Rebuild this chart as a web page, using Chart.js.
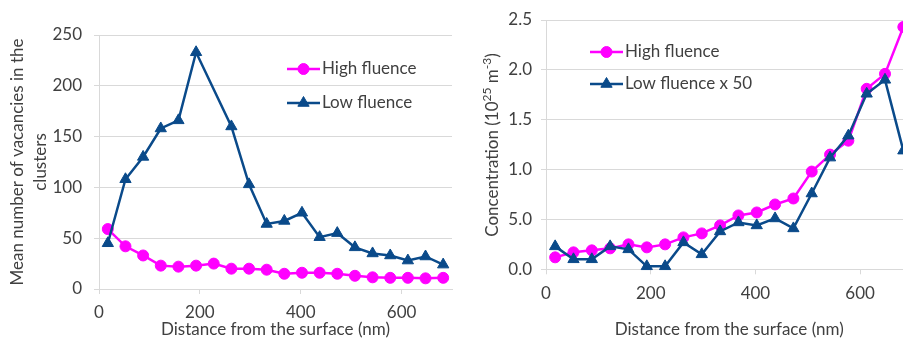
<!DOCTYPE html>
<html>
<head>
<meta charset="utf-8">
<script src="https://cdn.jsdelivr.net/npm/chart.js@4"></script>
<style>
  html, body { margin: 0; padding: 0; background: #fff; overflow: hidden; }
  body { width: 903px; height: 338px; position: relative; }
  canvas { position: absolute; top: 0; }
  #vacancies { left: 0; }
  #concentration { left: 460px; }
</style>
</head>
<body>
<canvas id="vacancies" width="460" height="338"></canvas>
<canvas id="concentration" width="460" height="338"></canvas>
<script>
// depth of each slice (nm)
const distanceNm = [17.5, 52.5, 87.5, 122.5, 157.5, 192.5, 227.5, 262.5, 297.5, 332.5,
    367.5, 402.5, 437.5, 472.5, 507.5, 542.5, 577.5, 612.5, 647.5, 682.5];

// mean number of vacancies per cluster
const vacHigh = [59, 42, 33, 23, 22, 23, 25, 20, 20, 19, 15, 16, 16, 15, 13, 11.5, 11, 11, 10.5, 11];
const vacLow = [45, 108, 130, 158, 166, 233, null, 160, 103, 64, 67, 75, 51, 55, 41, 35, 33, 28, 32, 24];

// cluster concentration (10^25 m^-3)
const concHigh = [0.12, 0.17, 0.19, 0.21, 0.25, 0.22, 0.25, 0.32, 0.36, 0.44,
    0.54, 0.57, 0.65, 0.71, 0.98, 1.15, 1.29, 1.81, 1.96, 2.43];
const concLow50 = [0.23, 0.1, 0.1, 0.23, 0.2, 0.03, 0.03, 0.27, 0.15, 0.38,
    0.47, 0.44, 0.51, 0.41, 0.76, 1.12, 1.34, 1.76, 1.9, 1.19];

const concTickLabels = ['0.0', '5.0', '1.0', '1.5', '2.0', '2.5'];

const FONT = 'Lato, "Open Sans", sans-serif';
const TEXT = '#404040';
const GRID = '#d9d9d9';
const PINK = '#ff00ff';
const NAVY = '#0a4a8a';

function points(values) {
    return distanceNm.map((x, i) => ({ x, y: values[i] }));
}

function series(label, values, color, style, radius, order) {
    return {
        label,
        data: points(values),
        borderColor: color,
        backgroundColor: color,
        pointBackgroundColor: color,
        pointBorderColor: color,
        pointBorderWidth: 1,
        borderWidth: 2.5,
        pointStyle: style,
        pointRadius: radius,
        spanGaps: true,
        clip: false,
        order,
    };
}

// legend drawn inside the plot: a short line with the marker, then the label
const insideLegend = {
    id: 'insideLegend',
    afterDraw(chart, args, opts) {
        const ctx = chart.ctx;
        ctx.save();
        chart.data.datasets.forEach((ds, i) => {
            const y = opts.y + i * opts.rowGap;
            ctx.strokeStyle = ds.borderColor;
            ctx.lineWidth = ds.borderWidth;
            ctx.beginPath();
            ctx.moveTo(opts.x, y);
            ctx.lineTo(opts.x + opts.lineLength, y);
            ctx.stroke();

            ctx.fillStyle = ds.borderColor;
            ctx.lineWidth = 1;
            Chart.helpers.drawPoint(ctx, {
                pointStyle: ds.pointStyle,
                radius: ds.pointRadius,
                borderWidth: 1,
                rotation: 0,
            }, opts.x + opts.lineLength / 2, y);

            ctx.fillStyle = TEXT;
            ctx.font = `${opts.fontSize}px ${FONT}`;
            ctx.textBaseline = 'middle';
            ctx.textAlign = 'left';
            ctx.fillText(ds.label, opts.x + opts.lineLength + 2, y);
        });
        ctx.restore();
    },
};

// rotated y title with superscripts
const concTitle = {
    id: 'concTitle',
    afterDraw(chart, args, opts) {
        const ctx = chart.ctx;
        const parts = [
            ['Concentration (10', false],
            ['25', true],
            [' m', false],
            ['-3', true],
            [')', false],
        ];
        const big = `${opts.fontSize}px ${FONT}`;
        const small = `${opts.supSize}px ${FONT}`;

        let total = 0;
        parts.forEach(([txt, sup]) => {
            ctx.font = sup ? small : big;
            total += ctx.measureText(txt).width;
        });

        ctx.save();
        ctx.translate(opts.x, opts.y);
        ctx.rotate(-Math.PI / 2);
        ctx.fillStyle = TEXT;
        ctx.textBaseline = 'middle';
        ctx.textAlign = 'left';
        let pos = -total / 2;
        parts.forEach(([txt, sup]) => {
            ctx.font = sup ? small : big;
            ctx.fillText(txt, pos, sup ? -opts.supRaise : 0);
            pos += ctx.measureText(txt).width;
        });
        ctx.restore();
    },
};

const tickFont = { family: FONT, size: 17 };

function xScale(padding, height) {
    return {
        type: 'linear',
        min: 0,
        max: 700,
        border: { display: true, color: GRID },
        grid: { drawOnChartArea: false, drawTicks: true, tickLength: 5, color: GRID },
        ticks: { stepSize: 200, includeBounds: false, color: TEXT, font: tickFont, padding },
        title: {
            display: true,
            text: 'Distance from the surface (nm)',
            color: TEXT,
            font: { family: FONT, size: 17, lineHeight: 1 },
            padding: { top: 0, bottom: 0 },
        },
        afterFit(scale) { scale.height = height; },
    };
}

new Chart(document.getElementById('vacancies'), {
    type: 'line',
    data: {
        datasets: [
            series('High fluence', vacHigh, PINK, 'circle', 5.5, 1),
            series('Low fluence', vacLow, NAVY, 'triangle', 6.5, 0),
        ],
    },
    options: {
        responsive: false,
        animation: false,
        layout: { padding: { top: 35, right: 8, left: 0, bottom: 0 } },
        plugins: {
            legend: { display: false },
            tooltip: { enabled: false },
            insideLegend: { x: 287, y: 69, rowGap: 34, lineLength: 33, fontSize: 17 },
        },
        scales: {
            x: xScale(8.5, 49),
            y: {
                min: 0,
                max: 250,
                border: { display: true, color: GRID },
                grid: { color: GRID, tickLength: 5 },
                ticks: { stepSize: 50, color: TEXT, font: tickFont, padding: 12 },
                title: {
                    display: true,
                    text: ['Mean number of vacancies in the', 'clusters'],
                    color: TEXT,
                    font: { family: FONT, size: 17, lineHeight: 1.35 },
                    padding: { top: 6.5, bottom: 0 },
                },
                afterFit(scale) { scale.width = 99; },
            },
        },
    },
    plugins: [insideLegend],
});

new Chart(document.getElementById('concentration'), {
    type: 'line',
    data: {
        datasets: [
            series('High fluence', concHigh, PINK, 'circle', 5.5, 1),
            series('Low fluence x 50', concLow50, NAVY, 'triangle', 6.5, 0),
        ],
    },
    options: {
        responsive: false,
        animation: false,
        layout: { padding: { top: 20, right: 7.5, left: 0, bottom: 0 } },
        plugins: {
            legend: { display: false },
            tooltip: { enabled: false },
            insideLegend: { x: 130, y: 52, rowGap: 32, lineLength: 33, fontSize: 17 },
            concTitle: { x: 33, y: 145, fontSize: 17, supSize: 12, supRaise: 6 },
        },
        scales: {
            x: xScale(9, 68.7),
            y: {
                min: 0,
                max: 2.5,
                border: { display: true, color: GRID },
                grid: { color: GRID, tickLength: 5 },
                ticks: {
                    stepSize: 0.5,
                    color: TEXT,
                    font: tickFont,
                    padding: 9,
                    callback: (value, index) => concTickLabels[index],
                },
                afterFit(scale) { scale.width = 86; },
            },
        },
    },
    plugins: [insideLegend, concTitle],
});
</script>
</body>
</html>
